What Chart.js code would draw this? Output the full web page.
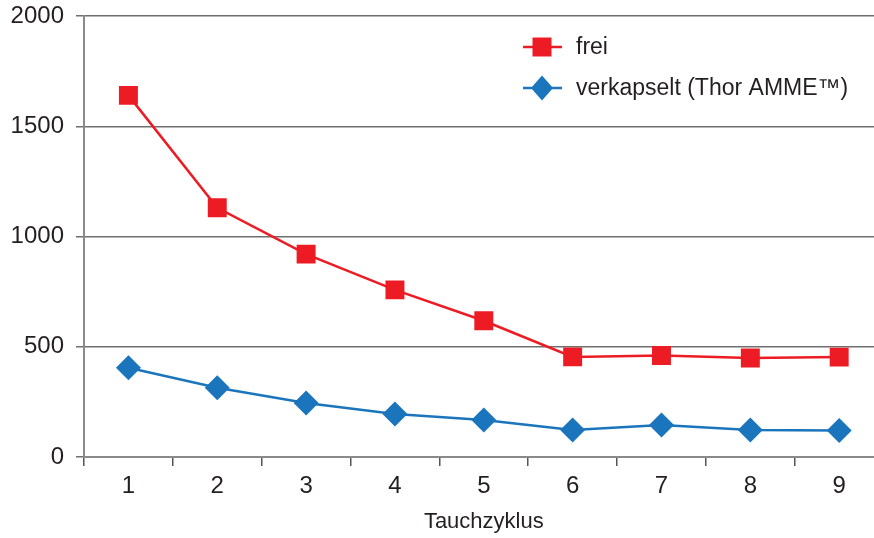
<!DOCTYPE html>
<html>
<head>
<meta charset="utf-8">
<script src="https://cdn.jsdelivr.net/npm/chart.js@4/dist/chart.umd.min.js"></script>
<style>
html,body{margin:0;padding:0;background:#fff;overflow:hidden;}
#wrap{width:900px;height:538px;}
</style>
</head>
<body>
<div id="wrap"><canvas id="c" width="897" height="538"></canvas></div>
<script>
const categories = ['1','2','3','4','5','6','7','8','9'];
const freiValues = [1640, 1130, 920, 758, 618, 454, 460, 449, 453];
const verkapseltValues = [405, 314, 245, 195, 168, 122, 145, 122, 120];
const yTicks = [0, 500, 1000, 1500, 2000];
const seriesNames = ['frei', 'verkapselt (Thor AMME\u2122)'];
const xTitle = 'Tauchzyklus';

const RED = '#ED1C24';
const BLUE = '#1B75BC';
const TXT = '#231F20';
const FONT = "'Liberation Sans', Arial, sans-serif";

const legendPlugin = {
  id: 'customLegend',
  afterDraw(chart) {
    const ctx = chart.ctx;
    const items = [
      {y: 47, color: RED, style: 'rect', label: seriesNames[0]},
      {y: 88, color: BLUE, style: 'rectRot', label: seriesNames[1]}
    ];
    ctx.save();
    items.forEach(it => {
      ctx.strokeStyle = it.color;
      ctx.lineWidth = 2.5;
      ctx.beginPath();
      ctx.moveTo(523, it.y);
      ctx.lineTo(562, it.y);
      ctx.stroke();
      ctx.fillStyle = it.color;
      ctx.beginPath();
      if (it.style === 'rect') {
        ctx.rect(542 - 9.5, it.y - 9.5, 19, 19);
      } else {
        ctx.moveTo(542 - 11, it.y);
        ctx.lineTo(542, it.y - 12.5);
        ctx.lineTo(542 + 11, it.y);
        ctx.lineTo(542, it.y + 12.5);
        ctx.closePath();
      }
      ctx.fill();
      ctx.fillStyle = TXT;
      ctx.font = '23px ' + FONT;
      ctx.textBaseline = 'middle';
      ctx.textAlign = 'left';
      ctx.fillText(it.label, 576, it.y + 1);
    });
    ctx.restore();
  }
};

new Chart(document.getElementById('c'), {
  type: 'line',
  data: {
    labels: categories,
    datasets: [
      {
        label: seriesNames[0],
        data: freiValues,
        borderColor: RED,
        backgroundColor: RED,
        borderWidth: 2.5,
        pointStyle: 'rect',
        pointRadius: 13.4,
        pointHoverRadius: 13.4,
        pointBorderWidth: 0,
        tension: 0
      },
      {
        label: seriesNames[1],
        data: verkapseltValues,
        borderColor: BLUE,
        backgroundColor: BLUE,
        borderWidth: 2.5,
        pointStyle: 'rectRot',
        pointRadius: 12.5,
        pointHoverRadius: 12.5,
        pointBorderWidth: 0,
        tension: 0
      }
    ]
  },
  options: {
    responsive: false,
    animation: false,
    devicePixelRatio: 1,
    layout: {padding: {top: 16, right: 1, left: 0, bottom: 0}},
    plugins: {legend: {display: false}, tooltip: {enabled: false}},
    scales: {
      x: {
        type: 'category',
        offset: true,
        grid: {
          offset: true,
          drawOnChartArea: false,
          drawTicks: true,
          tickLength: 9,
          color: '#555',
          lineWidth: 1.5
        },
        border: {display: true, color: '#8a8a8a', width: 2},
        ticks: {
          color: TXT,
          font: {family: FONT, size: 24},
          padding: 6,
          maxRotation: 0
        },
        title: {
          display: true,
          text: xTitle,
          color: TXT,
          font: {family: FONT, size: 22},
          padding: {top: 0, bottom: 3}
        },
        afterFit(scale) { scale.height = 81; scale.paddingLeft = 0; scale.paddingRight = 0; }
      },
      y: {
        min: 0,
        max: 2000,
        afterBuildTicks(scale) { scale.ticks = yTicks.map(v => ({value: v})); },
        grid: {
          color: '#6f6f6f',
          lineWidth: 1.5,
          drawTicks: true,
          tickLength: 8
        },
        border: {display: true, color: '#8a8a8a', width: 2},
        ticks: {
          color: TXT,
          font: {family: FONT, size: 24},
          padding: 12,
          callback: (v) => String(v)
        },
        afterFit(scale) { scale.width = 84; scale.paddingTop = 0; scale.paddingBottom = 0; }
      }
    }
  },
  plugins: [legendPlugin]
});
</script>
</body>
</html>
